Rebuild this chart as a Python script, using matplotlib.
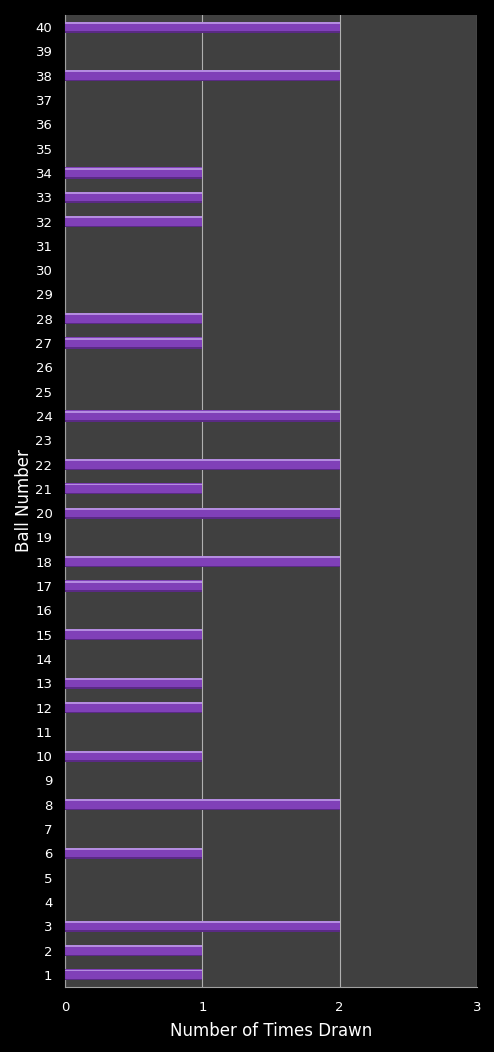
import numpy as np
import matplotlib.pyplot as plt

balls = list(range(1, 41))
drawn = [1, 1, 2, 0, 0, 1, 0, 2, 0, 1,
         0, 1, 1, 0, 1, 0, 1, 2, 0, 2,
         1, 2, 0, 2, 0, 0, 1, 1, 0, 0,
         0, 1, 1, 1, 0, 0, 0, 2, 0, 2]

fig = plt.figure(figsize=(4.94, 10.52), dpi=100, facecolor='black')
ax = fig.add_axes([65 / 494, 65 / 1052, 412 / 494, 972 / 1052])
ax.set_facecolor('#404040')

y = np.array(balls)
h = 0.46
# main bar, darker bottom edge and lighter top strip for the glossy look
ax.barh(y, drawn, height=h, color='#8040b8', zorder=3)
ax.barh(y - h / 2 + 0.03, drawn, height=0.06, color='#5a2a85', zorder=4)
ax.barh(y + h / 2 - 0.05, drawn, height=0.08, color='#b48ce0', zorder=4)

ax.set_xlim(0, 3)
ax.set_ylim(0.5, 40.5)
ax.set_xticks([0, 1, 2, 3])
ax.set_yticks(balls)
ax.set_yticklabels([str(b) for b in balls])
ax.xaxis.grid(True, color='#b0b0b0', linewidth=0.8, zorder=1)
ax.set_axisbelow(True)

for s in ['top', 'right']:
    ax.spines[s].set_visible(False)
for s in ['left', 'bottom']:
    ax.spines[s].set_color('#a0a0a0')
    ax.spines[s].set_linewidth(0.8)

ax.tick_params(colors='white', labelsize=9.5, length=0, pad=9)
ax.tick_params(axis='x', pad=10)
ax.set_xlabel('Number of Times Drawn', color='white', fontsize=12, labelpad=6)
ax.set_ylabel('Ball Number', color='white', fontsize=12)
ax.yaxis.set_label_coords(-32 / 412, 0.5)

fig.savefig('out.png', dpi=100, facecolor='black')
